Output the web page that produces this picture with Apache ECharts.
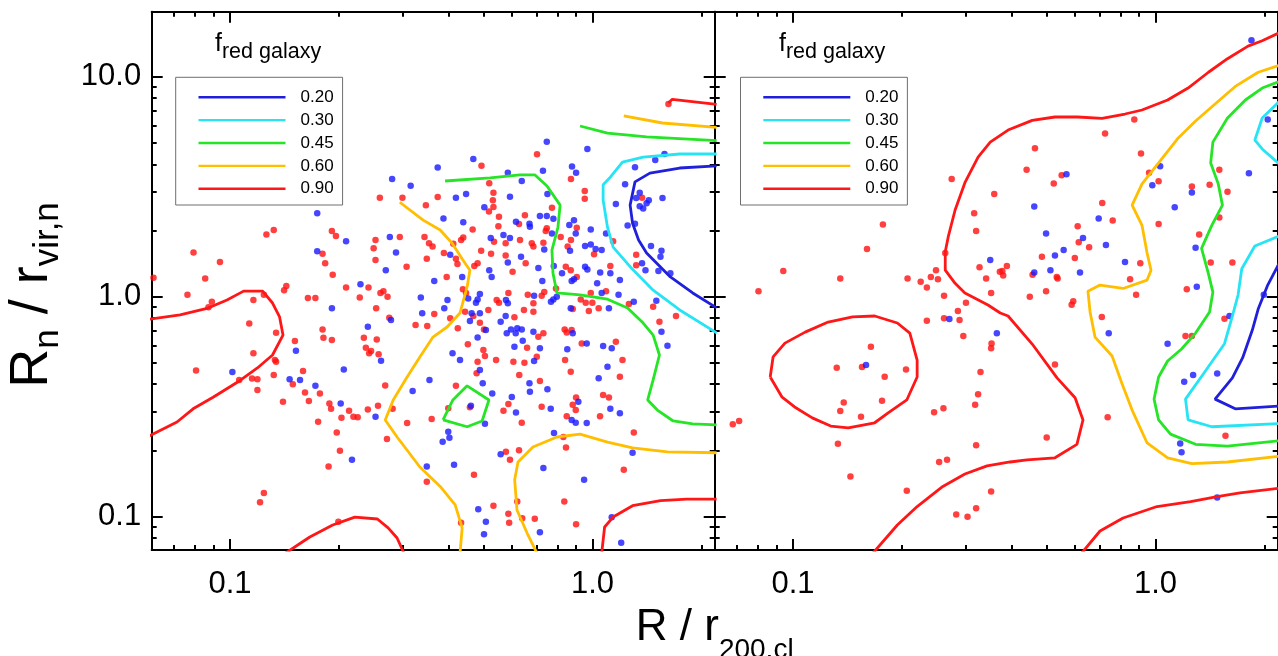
<!DOCTYPE html>
<html>
<head>
<meta charset="utf-8">
<script src="https://cdn.jsdelivr.net/npm/echarts@6/dist/echarts.min.js"></script>
<style>
html, body { margin: 0; padding: 0; background: #fff; }
#chart { width: 1278px; height: 656px; }
</style>
</head>
<body>
<div id="chart"></div>
<script>
// ---- axis ranges and ticks ----
const xRange = [0.0608, 2.1735];
const yRange = [0.0704, 19.8];
const xMajorTicks = [0.1, 1];
const xMajorLabels = ['0.1', '1.0'];
const xMinorTicks = [0.07, 0.08, 0.09, 0.2, 0.3, 0.4, 0.5, 0.6, 0.7, 0.8, 0.9, 2];
const yMajorTicks = [0.1, 1, 10];
const yMajorLabels = ['0.1', '1.0', '10.0'];
const yMinorTicks = [0.08, 0.09, 0.2, 0.3, 0.4, 0.5, 0.6, 0.7, 0.8, 0.9, 2, 3, 4, 5, 6, 7, 8, 9];

// ---- contour levels of the red-galaxy fraction ----
const levelNames = ['0.20', '0.30', '0.45', '0.60', '0.90'];

// ---- left panel: galaxies [R / r200,cl, Rn / rvir,n] ----
const leftRed = [
  [0.259,2.82],[0.299,2.82],[0.347,2.61],[0.374,2.84],[0.126,1.92],[0.132,2.01],[0.191,1.99],[0.196,1.89],
  [0.252,1.81],[0.294,1.87],[0.344,1.87],[0.354,1.75],[0.362,1.69],[0.249,1.66],[0.180,1.57],[0.0793,1.59],
  [0.0938,1.44],[0.183,1.42],[0.252,1.47],[0.349,1.49],[0.307,1.37],[0.192,1.26],[0.0854,1.21],[0.0615,1.22],
  [0.143,1.12],[0.141,1.07],[0.241,1.10],[0.209,1.10],[0.265,1.06],[0.260,1.04],[0.272,1.00],[0.0763,1.02],
  [0.164,0.987],[0.172,0.987],[0.228,0.991],[0.116,0.966],[0.0891,0.949],[0.0872,0.895],[0.124,1.02],[0.253,0.886],
  [0.275,0.803],[0.366,0.834],[0.325,0.743],[0.350,0.735],[0.113,0.756],[0.134,0.685],[0.180,0.710],[0.181,0.650],
  [0.191,0.635],[0.234,0.650],[0.254,0.639],[0.151,0.628],[0.237,0.586],[0.245,0.566],[0.242,0.553],[0.257,0.547],
  [0.116,0.553],[0.133,0.515],[0.134,0.506],[0.0806,0.461],[0.159,0.459],[0.132,0.440],[0.106,0.418],[0.115,0.424],
  [0.119,0.421],[0.149,0.400],[0.268,0.394],[0.119,0.376],[0.161,0.367],[0.177,0.363],[0.165,0.335],[0.140,0.333],
  [0.188,0.327],[0.190,0.309],[0.213,0.303],[0.240,0.307],[0.256,0.319],[0.281,0.309],[0.203,0.281],[0.219,0.284],
  [0.225,0.283],[0.360,0.278],[0.175,0.270],[0.197,0.241],[0.271,0.225],[0.308,0.266],[0.201,0.199],[0.187,0.169],
  [0.124,0.128],[0.121,0.116],[0.199,0.0947],[0.400,0.311],[0.459,0.314],[0.586,0.325],[0.568,0.303],[0.724,0.316],
  [0.882,0.322],[0.899,0.305],[0.849,0.286],[1.049,0.286],[0.638,0.267],[0.831,0.230],[0.845,0.206],[1.30,0.241],
  [1.22,0.163],[0.577,0.197],[0.627,0.200],[0.592,0.181],[0.349,0.144],[0.471,0.155],[0.836,0.117],[0.533,0.112],
  [0.586,0.103],[0.620,0.117],[0.589,0.0937],[0.640,0.0981],[0.693,0.0977],[0.434,0.0937],[0.901,0.0922],[0.703,4.45],
  [0.494,3.94],[0.872,3.43],[0.519,3.28],[0.952,3.03],[0.952,2.79],[1.37,2.82],[0.533,2.97],[0.531,2.75],
  [0.533,2.56],[0.518,2.44],[0.773,2.54],[0.552,2.31],[0.627,2.14],[0.651,2.35],[0.748,2.05],[0.743,1.99],
  [0.905,2.06],[0.872,1.81],[0.467,2.02],[0.550,2.09],[0.535,1.78],[0.576,1.75],[0.631,1.81],[0.680,1.75],
  [0.687,1.69],[0.732,1.76],[0.817,1.87],[1.01,1.56],[1.14,1.79],[0.854,1.69],[0.434,1.81],[0.440,1.86],
  [0.413,1.74],[0.420,1.49],[0.424,1.41],[0.389,1.58],[0.493,1.62],[0.525,1.57],[0.576,1.54],[0.654,1.42],
  [0.482,1.42],[0.472,1.38],[0.396,1.23],[0.448,1.04],[0.439,1.08],[0.602,1.30],[0.844,1.37],[0.871,1.32],
  [0.905,1.23],[1.12,1.38],[1.32,1.55],[1.32,1.39],[0.989,1.04],[1.09,1.06],[0.928,0.971],[0.958,0.939],
  [0.999,0.939],[0.793,1.09],[0.736,1.05],[0.724,1.01],[0.663,1.02],[0.586,1.04],[0.552,0.939],[0.544,0.966],
  [0.516,0.870],[0.445,0.854],[0.469,0.817],[0.489,0.761],[0.502,0.710],[0.425,0.718],[0.609,0.806],[0.647,0.870],
  [0.687,0.854],[0.687,0.933],[0.882,0.879],[0.977,0.861],[1.04,0.886],[1.26,0.926],[1.47,0.900],[1.70,0.817],
  [1.53,0.769],[0.405,0.798],[0.453,0.607],[0.482,0.506],[0.500,0.572],[0.505,0.537],[0.542,0.515],[0.660,0.586],
  [0.709,0.657],[0.732,0.681],[0.702,0.533],[0.649,0.501],[0.605,0.506],[0.838,0.710],[0.849,0.688],[0.876,0.705],
  [0.934,0.613],[0.840,0.515],[0.871,0.456],[1.16,0.624],[1.21,0.515],[1.19,0.432],[0.716,0.414],[0.628,0.440],
  [0.901,0.348],[1.07,0.357],[1.11,0.348],[0.479,0.448],[0.420,0.393],[1.62,7.53]
];
const leftBlue = [
  [0.374,3.87],[0.280,3.43],[0.315,3.20],[0.174,2.40],[0.209,1.79],[0.276,1.87],[0.287,1.59],[0.174,1.61],
  [0.269,1.32],[0.366,1.18],[0.229,1.14],[0.336,0.991],[0.191,0.886],[0.278,0.783],[0.339,0.840],[0.240,0.730],
  [0.152,0.568],[0.261,0.511],[0.1015,0.454],[0.206,0.467],[0.146,0.421],[0.156,0.418],[0.172,0.393],[0.355,0.418],
  [0.319,0.372],[0.202,0.327],[0.252,0.284],[0.217,0.181],[0.462,0.319],[0.615,0.297],[0.767,0.309],[0.914,0.333],
  [0.876,0.275],[0.899,0.267],[0.964,0.266],[1.12,0.309],[1.19,0.295],[0.505,0.264],[0.400,0.243],[0.403,0.228],
  [0.386,0.219],[0.783,0.240],[1.29,0.195],[0.948,0.147],[0.732,0.166],[0.558,0.192],[0.349,0.169],[0.415,0.172],
  [0.484,0.108],[0.508,0.0947],[0.502,0.0830],[0.716,0.0847],[1.13,0.0991],[1.20,0.0760],[0.748,5.07],[0.968,4.70],
  [1.58,4.46],[1.49,4.19],[0.469,4.23],[0.878,3.91],[0.901,3.66],[0.730,3.74],[0.584,3.66],[1.31,3.88],
  [0.638,3.36],[1.23,3.25],[0.751,2.93],[1.35,2.97],[1.32,2.81],[1.43,2.75],[1.41,2.66],[1.35,2.58],
  [1.38,2.52],[1.56,2.81],[0.592,2.85],[0.448,2.93],[0.420,2.82],[0.503,2.55],[0.716,2.33],[0.748,2.33],
  [0.780,2.26],[1.16,2.64],[0.388,2.27],[0.440,2.18],[0.615,2.19],[0.670,2.15],[0.672,2.08],[0.773,1.94],
  [0.863,2.12],[0.889,2.23],[0.989,2.02],[0.899,1.94],[1.09,1.94],[1.25,2.11],[1.31,2.15],[0.524,1.85],
  [0.592,1.85],[0.568,1.91],[0.736,1.64],[0.954,1.70],[0.989,1.73],[1.02,1.65],[1.06,1.63],[0.867,1.62],
  [0.405,1.55],[0.635,1.52],[0.584,1.43],[0.437,1.23],[0.519,1.32],[0.527,1.23],[0.709,1.35],[0.727,1.18],
  [0.782,1.38],[0.824,1.28],[0.954,1.37],[0.968,1.33],[0.876,1.18],[0.889,1.20],[1.05,1.29],[1.12,1.28],
  [1.19,1.19],[1.37,1.42],[1.40,1.32],[1.52,1.31],[1.64,1.28],[1.55,1.62],[1.54,1.52],[1.45,1.70],
  [1.03,1.15],[1.06,1.04],[1.18,1.02],[0.797,1.00],[0.780,0.971],[0.768,0.949],[0.690,1.01],[0.577,0.966],
  [0.584,0.933],[0.489,1.03],[0.482,0.971],[0.454,0.981],[0.398,0.966],[0.390,0.886],[0.477,0.939],[0.459,0.775],
  [0.464,0.840],[0.489,0.840],[0.508,0.705],[0.558,0.769],[0.576,0.817],[0.871,0.886],[1.11,0.886],[1.30,0.949],
  [1.50,0.959],[1.55,0.692],[1.61,0.598],[0.411,0.553],[0.431,0.515],[0.482,0.653],[0.580,0.681],[0.596,0.710],
  [0.620,0.718],[0.638,0.710],[0.614,0.681],[0.609,0.592],[0.642,0.630],[0.687,0.692],[0.716,0.582],[0.690,0.510],
  [0.882,0.681],[0.964,0.613],[0.852,0.576],[1.07,0.596],[1.13,0.582],[1.10,0.480],[1.04,0.426],[0.670,0.404],
  [0.672,0.369],[0.751,0.379],[0.599,0.350],[0.529,0.363],[0.489,0.464],[0.498,0.404]
];

// ---- right panel: galaxies [R / r200,cl, Rn / rvir,n] ----
const rightRed = [
  [0.274,3.43],[0.359,2.93],[0.177,2.13],[0.316,2.40],[0.320,1.99],[0.160,1.65],[0.263,1.58],[0.0940,1.31],
  [0.135,1.21],[0.207,1.21],[0.225,1.17],[0.240,1.23],[0.248,1.32],[0.251,1.20],[0.327,1.36],[0.341,1.21],
  [0.372,1.30],[0.234,1.10],[0.0803,1.06],[0.261,1.01],[0.300,0.939],[0.285,0.861],[0.261,0.798],[0.288,0.783],
  [0.234,0.777],[0.352,1.04],[0.295,0.662],[0.353,0.613],[0.352,0.582],[0.164,0.592],[0.132,0.475],[0.155,0.479],
  [0.179,0.432],[0.205,0.467],[0.329,0.454],[0.324,0.360],[0.318,0.322],[0.260,0.311],[0.245,0.298],[0.138,0.330],
  [0.135,0.302],[0.176,0.336],[0.154,0.284],[0.0682,0.263],[0.0710,0.272],[0.133,0.214],[0.320,0.211],[0.253,0.177],
  [0.266,0.181],[0.144,0.152],[0.206,0.131],[0.352,0.130],[0.282,0.102],[0.303,0.0997],[0.320,0.109],[0.501,0.229],
  [0.738,0.283],[1.56,0.233],[0.874,6.40],[0.726,5.53],[0.465,4.73],[0.912,4.48],[0.441,3.78],[0.551,3.57],
  [0.524,3.27],[0.960,3.66],[1.02,3.35],[1.26,3.17],[1.41,3.23],[1.50,3.78],[1.58,3.00],[0.713,2.67],
  [0.762,2.22],[1.02,2.14],[1.50,2.29],[0.610,2.09],[0.614,1.77],[0.656,1.68],[1.32,1.92],[0.486,1.52],
  [0.599,1.50],[0.389,1.38],[0.378,1.31],[0.380,1.25],[0.458,1.26],[0.534,1.23],[0.537,1.21],[0.908,1.42],
  [1.42,1.43],[1.63,1.43],[0.851,1.20],[0.499,1.06],[0.450,1.00],[0.593,0.953],[0.587,0.919],[0.884,1.02],
  [1.22,1.08],[0.711,0.809],[1.55,0.794],[1.21,0.662],[1.26,0.662],[0.528,0.491]
];
const rightBlue = [
  [0.350,1.47],[0.270,0.792],[0.365,0.681],[0.159,0.489],[1.17,0.215],[1.18,0.196],[1.48,0.122],[1.84,14.7],
  [2.04,6.40],[0.568,3.61],[1.03,3.92],[0.980,3.21],[1.26,2.98],[1.81,3.64],[0.463,2.57],[0.697,2.27],
  [1.13,2.55],[0.499,1.94],[0.631,1.85],[0.730,1.72],[1.29,1.67],[0.558,1.63],[0.528,1.54],[0.463,1.29],
  [0.513,1.32],[0.619,1.29],[0.824,1.44],[1.30,1.11],[1.99,1.02],[1.60,0.818],[0.743,0.681],[1.08,0.611],
  [1.20,0.410],[1.27,0.440],[1.48,0.447]
];

// ---- contour paths, one list of polylines per level ----
const leftC020 = [
  [[2.2,3.94],[1.74,3.85],[1.44,3.65],[1.31,3.33],[1.27,2.61],[1.29,2.16],[1.34,1.81],[1.41,1.58],[1.64,1.23],[1.89,1.04],[2.2,0.890]]
];
const leftC030 = [
  [[2.2,4.46],[1.74,4.46],[1.38,4.32],[1.21,4.10],[1.12,3.50],[1.07,3.23],[1.07,2.75],[1.10,2.07],[1.14,1.68],[1.27,1.37],[1.47,1.07],[1.74,0.870],[2.2,0.685]]
];
const leftC045 = [
  [[0.392,3.36],[0.522,3.47],[0.631,3.58],[0.694,3.58],[0.749,3.19],[0.814,2.61],[0.803,2.07],[0.773,1.63],[0.778,1.28],[0.798,1.04],[0.924,1.02],[1.10,0.974],[1.25,0.888],[1.38,0.759],[1.47,0.669],[1.53,0.543],[1.47,0.418],[1.42,0.339],[1.51,0.305],[1.67,0.272],[1.89,0.264],[2.2,0.261]],
  [[0.387,0.275],[0.412,0.339],[0.451,0.393],[0.518,0.339],[0.496,0.272],[0.451,0.256],[0.387,0.275]],
  [[0.924,5.98],[1.10,5.55],[1.41,5.33],[2.2,5.13]]
];
const leftC060 = [
  [[0.294,2.69],[0.341,2.23],[0.380,2.01],[0.410,1.75],[0.439,1.47],[0.459,1.32],[0.451,1.11],[0.431,0.843],[0.397,0.728],[0.363,0.655],[0.334,0.532],[0.308,0.431],[0.282,0.339],[0.268,0.275],[0.289,0.230],[0.334,0.168],[0.380,0.137],[0.418,0.113],[0.437,0.0887],[0.431,0.068]],
  [[0.703,0.068],[0.660,0.0841],[0.619,0.107],[0.610,0.147],[0.623,0.177],[0.685,0.207],[0.798,0.230],[0.924,0.237],[1.10,0.218],[1.29,0.205],[1.61,0.197],[2.2,0.195]],
  [[1.22,6.64],[1.56,6.17],[2.2,5.90]]
];
const leftC090 = [
  [[0.06,0.790],[0.0728,0.826],[0.0870,0.888],[0.0981,0.966],[0.109,1.06],[0.123,1.06],[0.131,0.936],[0.137,0.809],[0.140,0.669],[0.131,0.543],[0.119,0.474],[0.105,0.409],[0.0898,0.349],[0.0791,0.309],[0.0714,0.269],[0.06,0.233]],
  [[0.142,0.068],[0.166,0.0807],[0.192,0.0915],[0.221,0.0994],[0.255,0.0974],[0.273,0.0887],[0.289,0.0798],[0.302,0.068]],
  [[1.06,0.068],[1.08,0.0896],[1.14,0.0994],[1.29,0.112],[1.54,0.118],[1.82,0.120],[2.2,0.120]],
  [[1.62,7.61],[1.66,7.91],[2.2,7.50]]
];
const rightC020 = [
  [[2.2,1.43],[2.04,1.13],[1.92,0.879],[1.85,0.705],[1.74,0.528],[1.63,0.427],[1.46,0.342],[1.66,0.309],[2.2,0.318]]
];
const rightC030 = [
  [[2.2,7.75],[1.97,6.50],[1.88,5.16],[1.97,4.70],[2.2,4.00]],
  [[2.2,1.89],[1.88,1.70],[1.73,1.34],[1.69,1.02],[1.63,0.817],[1.55,0.611],[1.37,0.457],[1.21,0.342],[1.23,0.275],[1.43,0.256],[2.2,0.265]]
];
const rightC045 = [
  [[2.2,9.55],[1.97,8.90],[1.77,7.85],[1.58,6.50],[1.44,5.05],[1.42,4.06],[1.49,3.26],[1.53,2.61],[1.43,2.11],[1.34,1.66],[1.40,1.27],[1.44,1.05],[1.41,0.852],[1.29,0.683],[1.18,0.578],[1.08,0.510],[1.02,0.431],[0.991,0.342],[1.02,0.275],[1.10,0.237],[1.29,0.213],[1.58,0.209],[2.2,0.221]]
];
const rightC060 = [
  [[2.2,11.3],[1.92,10.5],[1.66,9.05],[1.46,7.53],[1.29,6.30],[1.15,5.23],[1.02,4.06],[0.918,3.26],[0.862,2.61],[0.918,2.11],[0.948,1.58],[0.972,1.32],[0.948,1.19],[0.814,1.09],[0.703,1.13],[0.651,1.06],[0.660,0.852],[0.681,0.655],[0.759,0.537],[0.809,0.401],[0.862,0.305],[0.948,0.216],[1.08,0.185],[1.26,0.174],[1.58,0.177],[2.2,0.188]]
];
const rightC090 = [
  [[2.2,15.9],[1.97,14.6],[1.80,13.8],[1.58,12.1],[1.40,10.5],[1.23,8.90],[1.08,7.85],[0.918,7.07],[0.824,6.78],[0.712,6.47],[0.610,6.57],[0.528,6.57],[0.457,6.34],[0.392,5.73],[0.350,5.05],[0.324,4.32],[0.298,3.30],[0.280,2.48],[0.268,1.87],[0.263,1.60],[0.263,1.32],[0.280,1.15],[0.298,1.04],[0.345,0.917],[0.373,0.843],[0.392,0.817],[0.457,0.609],[0.535,0.427],[0.600,0.347],[0.631,0.275],[0.607,0.213],[0.528,0.185],[0.442,0.181],[0.397,0.177],[0.343,0.170],[0.298,0.156],[0.259,0.137],[0.220,0.111],[0.194,0.0915],[0.166,0.068]],
  [[0.0865,0.431],[0.0881,0.532],[0.0950,0.615],[0.108,0.690],[0.125,0.767],[0.146,0.809],[0.168,0.817],[0.194,0.759],[0.210,0.683],[0.220,0.515],[0.220,0.431],[0.206,0.339],[0.183,0.296],[0.168,0.267],[0.142,0.253],[0.127,0.258],[0.113,0.281],[0.101,0.315],[0.0933,0.349],[0.0865,0.431]],
  [[0.625,0.068],[0.703,0.0859],[0.814,0.0984],[1.01,0.111],[1.25,0.117],[1.48,0.123],[1.71,0.128],[2.2,0.1345]]
];

// ---- styling ----
const FONT = '"Liberation Sans", Arial, Helvetica, sans-serif';
const levelColors = ['#2020dc', '#26e4f4', '#26e426', '#ffbe00', '#ff1616'];
const dotRed = '#ff1010';
const dotBlue = '#1818ff';
const gridLeft = [151.7, 714.7];
const gridTop = 11.7, gridWidth = 563, gridHeight = 538.3;

function tickLabel(v, ticks, labels) {
  for (let i = 0; i < ticks.length; i++) {
    if (Math.abs(Math.log10(v) - Math.log10(ticks[i])) < 1e-6) return labels[i];
  }
  return '';
}

function makeAxis(kind, gridIndex, position, major, showLabels) {
  const ticks = kind === 'x' ? (major ? xMajorTicks : xMinorTicks) : (major ? yMajorTicks : yMinorTicks);
  const labels = kind === 'x' ? xMajorLabels : yMajorLabels;
  const range = kind === 'x' ? xRange : yRange;
  return {
    type: 'log', logBase: 10, gridIndex: gridIndex, position: position,
    min: range[0], max: range[1],
    axisLine: { show: major, onZero: false, lineStyle: { color: '#000', width: 2 } },
    axisTick: { show: true, inside: true, length: major ? 11 : 5, customValues: ticks,
                lineStyle: { color: '#000', width: 2 } },
    axisLabel: { show: showLabels, customValues: ticks, margin: kind === 'x' ? 19 : 10.5,
                 fontFamily: FONT, fontSize: 31, color: '#000',
                 formatter: function (v) { return tickLabel(v, ticks, labels); } },
    splitLine: { show: false },
    minorTick: { show: false },
    minorSplitLine: { show: false },
    axisPointer: { show: false }
  };
}

const xAxes = [], yAxes = [];
[0, 1].forEach(function (p) {
  xAxes.push(makeAxis('x', p, 'bottom', true, true));
  xAxes.push(makeAxis('x', p, 'bottom', false, false));
  xAxes.push(makeAxis('x', p, 'top', true, false));
  xAxes.push(makeAxis('x', p, 'top', false, false));
  yAxes.push(makeAxis('y', p, 'left', true, p === 0));
  yAxes.push(makeAxis('y', p, 'left', false, false));
  yAxes.push(makeAxis('y', p, 'right', true, false));
  yAxes.push(makeAxis('y', p, 'right', false, false));
});

const panels = [
  { red: leftRed, blue: leftBlue, contours: [leftC020, leftC030, leftC045, leftC060, leftC090] },
  { red: rightRed, blue: rightBlue, contours: [rightC020, rightC030, rightC045, rightC060, rightC090] }
];

const series = [];
panels.forEach(function (panel, p) {
  const ax = 4 * p;
  series.push({ type: 'scatter', name: 'red', xAxisIndex: ax, yAxisIndex: ax, data: panel.red,
                symbol: 'circle', symbolSize: 6.5, itemStyle: { color: dotRed }, z: 2, silent: true });
  series.push({ type: 'scatter', name: 'blue', xAxisIndex: ax, yAxisIndex: ax, data: panel.blue,
                symbol: 'circle', symbolSize: 6.5, itemStyle: { color: dotBlue }, z: 2, silent: true });
  panel.contours.forEach(function (paths, k) {
    paths.forEach(function (path) {
      series.push({ type: 'line', name: levelNames[k], xAxisIndex: ax, yAxisIndex: ax, data: path,
                    symbol: 'none', smooth: false, clip: true, silent: true, z: 3,
                    lineStyle: { color: levelColors[k], width: 2.8 },
                    itemStyle: { color: levelColors[k] } });
    });
  });
});

const legends = [0, 1].map(function (p) {
  return {
    orient: 'vertical', left: 175.7 + 564.8 * p, top: 77.3,
    data: levelNames, selectedMode: false,
    itemWidth: 87, itemHeight: 14, itemGap: 5.9,
    padding: [11.4, 9, 7.7, 21.6],
    borderColor: '#6e6e6e', borderWidth: 1, borderRadius: 0,
    itemStyle: { color: 'rgba(0,0,0,0)', borderWidth: 0, opacity: 0 },
    lineStyle: { width: 2.4 },
    textStyle: { fontFamily: FONT, fontSize: 17, color: '#000', padding: [0, 0, 0, 10] }
  };
});

function panelTag(x) {
  return {
    type: 'text', x: x, y: 26, silent: true,
    style: {
      text: '{f|f}{s|red galaxy}', align: 'left', verticalAlign: 'top', fill: '#000',
      fontFamily: FONT, fontSize: 25,
      rich: {
        f: { fontFamily: FONT, fontSize: 25, lineHeight: 37, fill: '#000' },
        s: { fontFamily: FONT, fontSize: 21.5, lineHeight: 21.5, verticalAlign: 'bottom', fill: '#000' }
      }
    }
  };
}

const bottomTitleRich = {
  m: { fontFamily: FONT, fontSize: 44, lineHeight: 73, fill: '#000' },
  s: { fontFamily: FONT, fontSize: 28, lineHeight: 28, verticalAlign: 'bottom', fill: '#000' }
};
const leftTitleRich = {
  m: { fontFamily: FONT, fontSize: 54, lineHeight: 66, fill: '#000' },
  s: { fontFamily: FONT, fontSize: 35, lineHeight: 35, verticalAlign: 'bottom', fill: '#000' }
};

const chart = echarts.init(document.getElementById('chart'), null, { renderer: 'canvas' });
chart.setOption({
  animation: false,
  backgroundColor: '#fff',
  grid: [0, 1].map(function (p) {
    return { left: gridLeft[p], top: gridTop, width: gridWidth, height: gridHeight, containLabel: false };
  }),
  xAxis: xAxes,
  yAxis: yAxes,
  legend: legends,
  series: series,
  graphic: [
    { type: 'text', x: 714.7, y: 628, silent: true,
      style: { text: '{m|R / r}{s|200,cl}', align: 'center', verticalAlign: 'middle', fill: '#000',
               fontFamily: FONT, fontSize: 44, rich: bottomTitleRich } },
    { type: 'text', x: 32.5, y: 295, rotation: Math.PI / 2, silent: true,
      style: { text: '{m|R}{s|n}{m| / r}{s|vir,n}', align: 'center', verticalAlign: 'middle', fill: '#000',
               fontFamily: FONT, fontSize: 54, rich: leftTitleRich } },
    panelTag(215),
    panelTag(215 + 564)
  ]
});
</script>
</body>
</html>
